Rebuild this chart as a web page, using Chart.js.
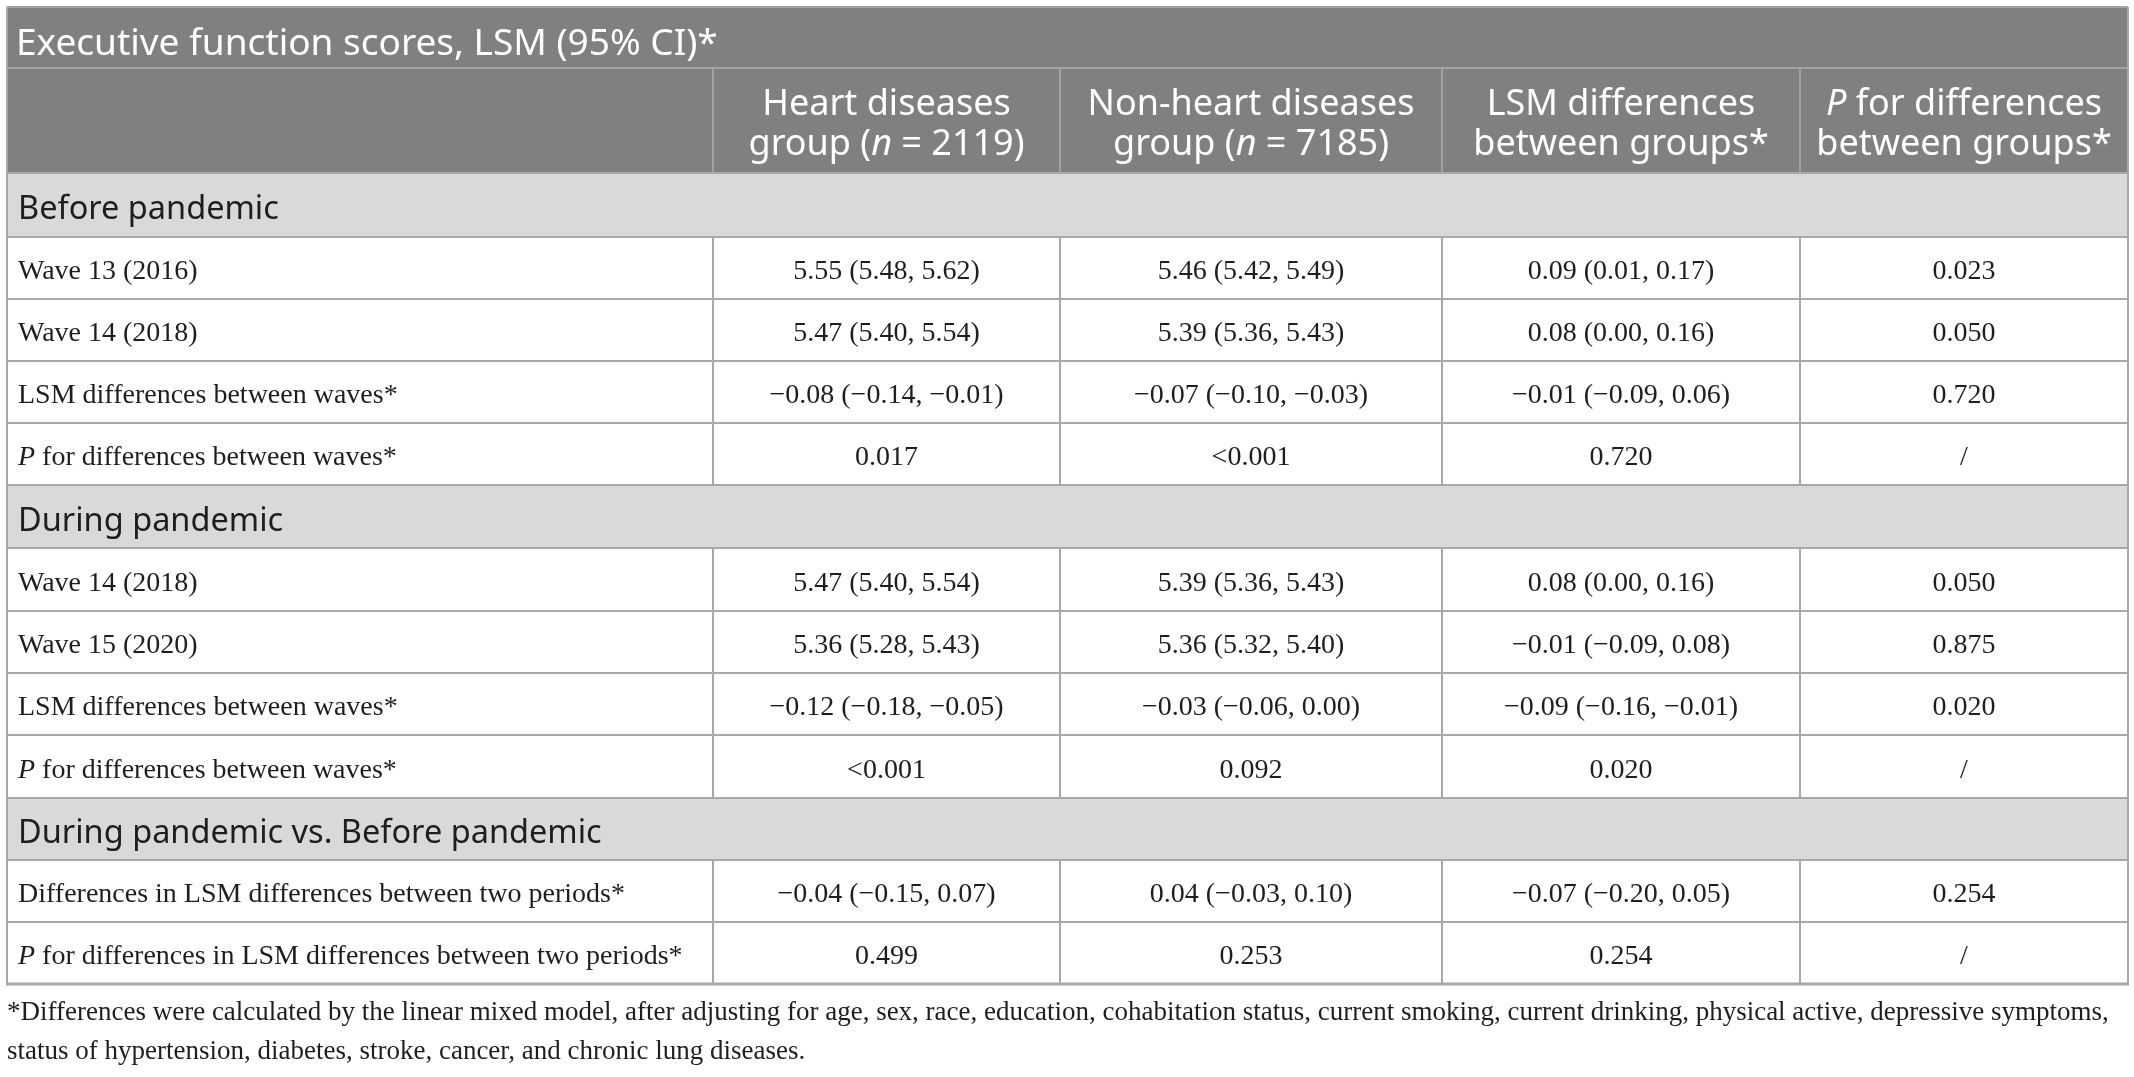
<!DOCTYPE html>
<html>
<head>
<meta charset="utf-8">
<title>Executive function scores</title>
<script src="https://cdn.jsdelivr.net/npm/chart.js@4.4.1/dist/chart.umd.min.js"></script>
<style>
  html, body { margin: 0; padding: 0; background: #ffffff; }
  #wrap { width: 2134px; height: 1077px; }
</style>
</head>
<body>
<div id="wrap"><canvas id="table1" width="2134" height="1077"></canvas></div>
<script>
// Texts of the table (an underscore pair marks italic text)
const tableTitle = 'Executive function scores, LSM (95% CI)*';
const columnHeaders = [
    ['Heart diseases', 'group (_n_ = 2119)'],
    ['Non-heart diseases', 'group (_n_ = 7185)'],
    ['LSM differences', 'between groups*'],
    ['_P_ for differences', 'between groups*']
];
const sectionTitles = ['Before pandemic', 'During pandemic', 'During pandemic vs. Before pandemic'];
const rowsPerSection = [4, 4, 2];

const rowLabels = [
    'Wave 13 (2016)', 'Wave 14 (2018)', 'LSM differences between waves*', '_P_ for differences between waves*',
    'Wave 14 (2018)', 'Wave 15 (2020)', 'LSM differences between waves*', '_P_ for differences between waves*',
    'Differences in LSM differences between two periods*', '_P_ for differences in LSM differences between two periods*'
];
const heartGroup = [
    '5.55 (5.48, 5.62)', '5.47 (5.40, 5.54)', '\u22120.08 (\u22120.14, \u22120.01)', '0.017',
    '5.47 (5.40, 5.54)', '5.36 (5.28, 5.43)', '\u22120.12 (\u22120.18, \u22120.05)', '<0.001',
    '\u22120.04 (\u22120.15, 0.07)', '0.499'
];
const nonHeartGroup = [
    '5.46 (5.42, 5.49)', '5.39 (5.36, 5.43)', '\u22120.07 (\u22120.10, \u22120.03)', '<0.001',
    '5.39 (5.36, 5.43)', '5.36 (5.32, 5.40)', '\u22120.03 (\u22120.06, 0.00)', '0.092',
    '0.04 (\u22120.03, 0.10)', '0.253'
];
const groupDifferences = [
    '0.09 (0.01, 0.17)', '0.08 (0.00, 0.16)', '\u22120.01 (\u22120.09, 0.06)', '0.720',
    '0.08 (0.00, 0.16)', '\u22120.01 (\u22120.09, 0.08)', '\u22120.09 (\u22120.16, \u22120.01)', '0.020',
    '\u22120.07 (\u22120.20, 0.05)', '0.254'
];
const groupPValues = [
    '0.023', '0.050', '0.720', '/',
    '0.050', '0.875', '0.020', '/',
    '0.254', '/'
];
const footnoteLines = [
    '*Differences were calculated by the linear mixed model, after adjusting for age, sex, race, education, cohabitation status, current smoking, current drinking, physical active, depressive symptoms,',
    'status of hypertension, diabetes, stroke, cancer, and chronic lung diseases.'
];

// Layout (in scale units, the scales map 1 unit to 1 px)
const colEdges = [7, 713, 1060, 1442, 1800, 2128];
const tableTop = 7, headerTop = 68, headerBottom = 173;
const rowEdges = [173, 237, 299, 361, 423, 485, 548, 611, 673, 735, 798, 860, 922, 984];

const darkBand = '#808080';
const lightBand = '#d9d9d9';
const gridColor = '#a8a8a8';
const textColor = '#1e1e1e';
const serif = '"Liberation Serif", "Times New Roman", serif';
const sans = '"Noto Sans", "Open Sans", sans-serif';

// build the row sequence: section rows and body rows
const sequence = [];
let bodyIndex = 0;
sectionTitles.forEach((title, s) => {
    sequence.push({ kind: 'section', text: title });
    for (let k = 0; k < rowsPerSection[s]; k++) {
        sequence.push({ kind: 'row', index: bodyIndex++ });
    }
});
const rowCenter = i => (rowEdges[i] + rowEdges[i + 1]) / 2;
const colCenter = c => (colEdges[c] + colEdges[c + 1]) / 2;

// one point dataset per column, the text sits on each point
const labelPoints = sequence.map((r, i) => ({
    x: colEdges[0] + 11,
    y: rowCenter(i),
    text: r.kind === 'section' ? r.text : rowLabels[r.index],
    kind: r.kind
}));
function valuePoints(values, c) {
    const pts = [];
    sequence.forEach((r, i) => {
        if (r.kind === 'row') pts.push({ x: colCenter(c), y: rowCenter(i), text: values[r.index], kind: 'value' });
    });
    return pts;
}
const valueColumns = [heartGroup, nonHeartGroup, groupDifferences, groupPValues];

function drawRich(ctx, str, x, y, align, size, family) {
    const parts = str.split('_');
    const fonts = parts.map((p, i) => (i % 2 ? 'italic ' : '') + size + 'px ' + family);
    let total = 0;
    const widths = parts.map((p, i) => { ctx.font = fonts[i]; const w = ctx.measureText(p).width; total += w; return w; });
    let cx = align === 'center' ? x - total / 2 : x;
    ctx.textAlign = 'left';
    parts.forEach((p, i) => {
        ctx.font = fonts[i];
        ctx.fillText(p, cx, y);
        cx += widths[i];
    });
}

const tablePlugin = {
    id: 'tablePlugin',
    beforeDatasetsDraw(chart) {
        const ctx = chart.ctx;
        const sx = chart.scales.x, sy = chart.scales.y;
        const X = v => sx.getPixelForValue(v);
        const Y = v => sy.getPixelForValue(v);
        const left = X(colEdges[0]), right = X(colEdges[colEdges.length - 1]);
        ctx.save();
        // header bands
        ctx.fillStyle = darkBand;
        ctx.fillRect(left, Y(tableTop), right - left, Y(headerBottom) - Y(tableTop));
        // section bands
        ctx.fillStyle = lightBand;
        sequence.forEach((r, i) => {
            if (r.kind === 'section') ctx.fillRect(left, Y(rowEdges[i]), right - left, Y(rowEdges[i + 1]) - Y(rowEdges[i]));
        });
        // header lines
        ctx.strokeStyle = '#a2a2a2';
        ctx.lineWidth = 2;
        ctx.beginPath();
        ctx.moveTo(left, Y(tableTop)); ctx.lineTo(right, Y(tableTop));
        ctx.moveTo(left, Y(headerTop)); ctx.lineTo(right, Y(headerTop));
        for (let c = 1; c < colEdges.length - 1; c++) {
            ctx.moveTo(X(colEdges[c]), Y(headerTop)); ctx.lineTo(X(colEdges[c]), Y(headerBottom));
        }
        ctx.stroke();
        // body grid
        ctx.strokeStyle = gridColor;
        ctx.beginPath();
        rowEdges.slice(0, -1).forEach(e => { ctx.moveTo(left, Y(e)); ctx.lineTo(right, Y(e)); });
        sequence.forEach((r, i) => {
            if (r.kind !== 'row') return;
            for (let c = 1; c < colEdges.length - 1; c++) {
                ctx.moveTo(X(colEdges[c]), Y(rowEdges[i])); ctx.lineTo(X(colEdges[c]), Y(rowEdges[i + 1]));
            }
        });
        ctx.moveTo(left, Y(tableTop)); ctx.lineTo(left, Y(rowEdges[rowEdges.length - 1]));
        ctx.moveTo(right, Y(tableTop)); ctx.lineTo(right, Y(rowEdges[rowEdges.length - 1]));
        ctx.stroke();
        ctx.lineWidth = 3;
        ctx.beginPath();
        ctx.moveTo(left - 1, Y(rowEdges[rowEdges.length - 1])); ctx.lineTo(right + 1, Y(rowEdges[rowEdges.length - 1]));
        ctx.stroke();
        ctx.restore();
    },
    afterDatasetsDraw(chart) {
        const ctx = chart.ctx;
        const sx = chart.scales.x, sy = chart.scales.y;
        ctx.save();
        ctx.textBaseline = 'alphabetic';
        // title and column headers
        ctx.fillStyle = '#ffffff';
        drawRich(ctx, tableTitle, sx.getPixelForValue(16), sy.getPixelForValue(55), 'left', 37, sans);
        columnHeaders.forEach((lines, c) => {
            drawRich(ctx, lines[0], sx.getPixelForValue(colCenter(c + 1)), sy.getPixelForValue(115), 'center', 36, sans);
            drawRich(ctx, lines[1], sx.getPixelForValue(colCenter(c + 1)), sy.getPixelForValue(155), 'center', 36, sans);
        });
        // cell texts on the point elements
        ctx.fillStyle = textColor;
        chart.data.datasets.forEach((ds, d) => {
            const meta = chart.getDatasetMeta(d);
            meta.data.forEach((el, j) => {
                const raw = ds.data[j];
                if (raw.kind === 'section') {
                    drawRich(ctx, raw.text, el.x, el.y + 14, 'left', 32.5, sans);
                } else if (raw.kind === 'value') {
                    drawRich(ctx, raw.text, el.x, el.y + 11, 'center', 28, serif);
                } else {
                    drawRich(ctx, raw.text, el.x, el.y + 11, 'left', 28, serif);
                }
            });
        });
        // footnote
        ctx.fillStyle = textColor;
        drawRich(ctx, footnoteLines[0], sx.getPixelForValue(7), sy.getPixelForValue(1020), 'left', 27, serif);
        drawRich(ctx, footnoteLines[1], sx.getPixelForValue(7), sy.getPixelForValue(1059), 'left', 27, serif);
        ctx.restore();
    }
};

const ctx = document.getElementById('table1').getContext('2d');
const myChart = new Chart(ctx, {
    type: 'scatter',
    data: {
        datasets: [
            { label: 'Row labels', data: labelPoints, pointRadius: 0 }
        ].concat(valueColumns.map((vals, c) => ({
            label: columnHeaders[c].join(' ').replace(/_/g, ''),
            data: valuePoints(vals, c + 1),
            pointRadius: 0
        })))
    },
    options: {
        responsive: false,
        devicePixelRatio: 1,
        animation: false,
        events: [],
        layout: { padding: 0 },
        scales: {
            x: { type: 'linear', min: 0, max: 2134, display: false },
            y: { type: 'linear', min: 0, max: 1077, reverse: true, display: false }
        },
        plugins: {
            legend: { display: false },
            tooltip: { enabled: false }
        }
    },
    plugins: [tablePlugin]
});
</script>
</body>
</html>
